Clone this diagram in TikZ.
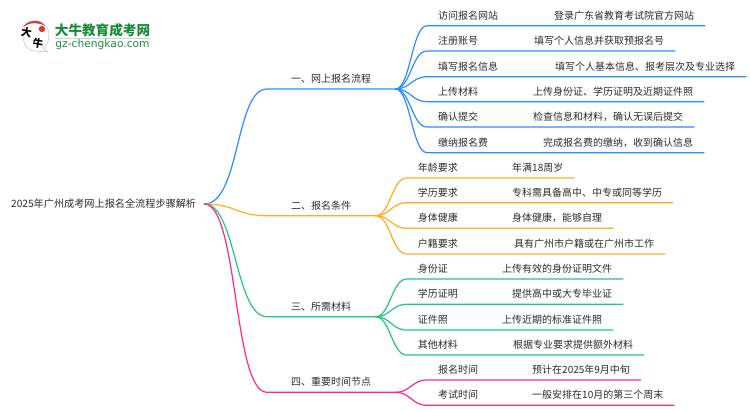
\documentclass[tikz,border=0pt]{standalone}
\usepackage{fontspec}
\setmainfont{Noto Sans CJK SC}
\newfontfamily\logofont{DejaVu Sans}
\definecolor{txtgray}{HTML}{2B2B2B}
\definecolor{wireblue}{HTML}{2D8CFF}
\definecolor{wireorange}{HTML}{FFAE1F}
\definecolor{wiregreen}{HTML}{22C77F}
\definecolor{wirepink}{HTML}{FF2A85}
\definecolor{logogreen}{HTML}{1C8A3C}
\definecolor{logored}{HTML}{D83A3A}
\tikzset{
  txt/.style={inner ysep=0pt, minimum height=20pt, text=txtgray, font=\fontsize{10}{12}\selectfont},
  rootnode/.style={txt, anchor=west, inner xsep=8pt, font=\fontsize{10.15}{12}\selectfont},
  branchnode/.style={txt, anchor=south west, inner xsep=24pt},
  leaf/.style={txt, anchor=south west, inner xsep=11pt},
  wire/.style={line width=1.2pt},
  rootcurve/.style={wire, line cap=round},
  logochar/.style={inner sep=0pt, text=black, font=\fontsize{10.5}{11}\selectfont\bfseries, rotate=-10},
}
\begin{document}
\begin{tikzpicture}[x=1pt,y=-1pt]
  \useasboundingbox (0,0) rectangle (750,410);
  % logo
  \draw[gray!45, fill=white, line width=0.6pt] (35,51) .. controls (26,51) and (23,42) .. (23,35) .. controls (23,26) and (29,21) .. (36,21) .. controls (44,21) and (49,28) .. (49,36) .. controls (49,43) and (45,47) .. (43,48) -- (48,52) -- cycle;
  \fill[logored] (23,27) .. controls (27,20) and (40,18) .. (45,26) .. controls (38,22) and (30,22) .. (23,27) -- cycle;
  \fill[logored] (42,29) circle (3.2);
  \node[logochar] (logoa) at (26.5,32.5) {大};
  \node[logochar] (logob) at (38,43) {牛};
  \node[inner sep=0pt, text=logogreen, font=\fontsize{13.6}{14}\selectfont\bfseries] (logotitle) at (102.5,30) {大牛教育成考网};
  \draw[logogreen!30, line width=0.5pt] (55,38.5) -- (150,38.5);
  \node[inner sep=0pt, text=logogreen, font=\fontsize{10.7}{12}\selectfont\logofont] (logourl) at (102.5,44.5) {gz-chengkao.com};
  % root and branches
  \node[rootnode] (root) at (3,204) {2025年广州成考网上报名全流程步骤解析};
  \node[branchnode] (b1) at (267,89) {一、网上报名流程};
  \node[branchnode] (b2) at (267,215.7) {二、报名条件};
  \node[branchnode] (b3) at (267,316.7) {三、所需材料};
  \node[branchnode] (b4) at (267,392.3) {四、重要时间节点};
  \draw[rootcurve, wireblue] (root.east) .. controls +(36,0) and +(-32,0) .. (b1.south west) -- (b1.south east);
  \draw[rootcurve, wireorange] (root.east) .. controls +(32,0) and +(-32,0) .. (b2.south west) -- (b2.south east);
  \draw[rootcurve, wiregreen] (root.east) .. controls +(32,0) and +(-32,0) .. (b3.south west) -- (b3.south east);
  \draw[rootcurve, wirepink] (root.east) .. controls +(34,0) and +(-34,0) .. (b4.south west) -- (b4.south east);
  % first branch
  \node[leaf] (a1) at (427,25.7) {访问报名网站};
  \node[leaf] (va1) at (543,25.7) {登录广东省教育考试院官方网站};
  \node[leaf] (a2) at (427,51) {注册账号};
  \node[leaf] (va2) at (523,51) {填写个人信息并获取预报名号};
  \node[leaf] (a3) at (427,76.7) {填写报名信息};
  \node[leaf] (va3) at (544,76.7) {填写个人基本信息、报考层次及专业选择};
  \node[leaf] (a4) at (427,101.7) {上传材料};
  \node[leaf] (va4) at (522,101.7) {上传身份证、学历证明及近期证件照};
  \node[leaf] (a5) at (427,127) {确认提交};
  \node[leaf] (va5) at (522,127) {检查信息和材料，确认无误后提交};
  \node[leaf] (a6) at (427,152.7) {缴纳报名费};
  \node[leaf] (va6) at (532,152.7) {完成报名费的缴纳，收到确认信息};
  \draw[wire, wireblue] (b1.south east) .. controls +(15,0) and +(-15,0) .. (a1.south west) -- (va1.south east);
  \draw[wire, wireblue] (b1.south east) .. controls +(15,0) and +(-15,0) .. (a2.south west) -- (va2.south east);
  \draw[wire, wireblue] (b1.south east) .. controls +(15,0) and +(-15,0) .. (a3.south west) -- (va3.south east);
  \draw[wire, wireblue] (b1.south east) .. controls +(15,0) and +(-15,0) .. (a4.south west) -- (va4.south east);
  \draw[wire, wireblue] (b1.south east) .. controls +(15,0) and +(-15,0) .. (a5.south west) -- (va5.south east);
  \draw[wire, wireblue] (b1.south east) .. controls +(15,0) and +(-15,0) .. (a6.south west) -- (va6.south east);
  % second branch
  \node[leaf] (c1) at (406.7,178) {年龄要求};
  \node[leaf] (vc1) at (501,178) {年满18周岁};
  \node[leaf] (c2) at (406.7,202.7) {学历要求};
  \node[leaf] (vc2) at (501,202.7) {专科需具备高中、中专或同等学历};
  \node[leaf] (c3) at (406.7,228.3) {身体健康};
  \node[leaf] (vc3) at (501,228.3) {身体健康，能够自理};
  \node[leaf] (c4) at (406.7,254) {户籍要求};
  \node[leaf] (vc4) at (503,254) {具有广州市户籍或在广州市工作};
  \draw[wire, wireorange] (b2.south east) .. controls +(15,0) and +(-15,0) .. (c1.south west) -- (vc1.south east);
  \draw[wire, wireorange] (b2.south east) .. controls +(15,0) and +(-15,0) .. (c2.south west) -- (vc2.south east);
  \draw[wire, wireorange] (b2.south east) .. controls +(15,0) and +(-15,0) .. (c3.south west) -- (vc3.south east);
  \draw[wire, wireorange] (b2.south east) .. controls +(15,0) and +(-15,0) .. (c4.south west) -- (vc4.south east);
  % third branch
  \node[leaf] (d1) at (406.7,279) {身份证};
  \node[leaf] (vd1) at (491,279) {上传有效的身份证明文件};
  \node[leaf] (d2) at (406.7,304.3) {学历证明};
  \node[leaf] (vd2) at (501,304.3) {提供高中或大专毕业证};
  \node[leaf] (d3) at (406.7,330) {证件照};
  \node[leaf] (vd3) at (491,330) {上传近期的标准证件照};
  \node[leaf] (d4) at (406.7,355) {其他材料};
  \node[leaf] (vd4) at (502,355) {根据专业要求提供额外材料};
  \draw[wire, wiregreen] (b3.south east) .. controls +(15,0) and +(-15,0) .. (d1.south west) -- (vd1.south east);
  \draw[wire, wiregreen] (b3.south east) .. controls +(15,0) and +(-15,0) .. (d2.south west) -- (vd2.south east);
  \draw[wire, wiregreen] (b3.south east) .. controls +(15,0) and +(-15,0) .. (d3.south west) -- (vd3.south east);
  \draw[wire, wiregreen] (b3.south east) .. controls +(15,0) and +(-15,0) .. (d4.south west) -- (vd4.south east);
  % fourth branch
  \node[leaf] (f1) at (427,380) {报名时间};
  \node[leaf] (vf1) at (521,380) {预计在2025年9月中旬};
  \node[leaf] (f2) at (427,405.3) {考试时间};
  \node[leaf] (vf2) at (521,405.3) {一般安排在10月的第三个周末};
  \draw[wire, wirepink] (b4.south east) .. controls +(15,0) and +(-15,0) .. (f1.south west) -- (vf1.south east);
  \draw[wire, wirepink] (b4.south east) .. controls +(15,0) and +(-15,0) .. (f2.south west) -- (vf2.south east);
\end{tikzpicture}
\end{document}
